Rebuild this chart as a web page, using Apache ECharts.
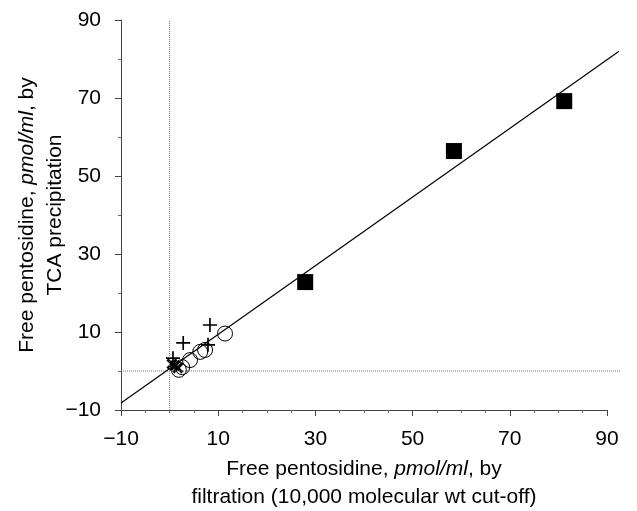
<!DOCTYPE html>
<html>
<head>
<meta charset="utf-8">
<script src="https://cdn.jsdelivr.net/npm/echarts@6/dist/echarts.min.js"></script>
<style>
  html, body { margin: 0; padding: 0; background: #fff; }
  #chart { width: 637px; height: 511px; }
</style>
</head>
<body>
<div id="chart"></div>
<script>
// values
const squarePoints = [[27.9, 22.8], [58.5, 56.4], [81.2, 69.2]]
const circlePoints = [[11.4, 9.6], [7.3, 5.4], [6.3, 4.9], [4.2, 2.8], [2.6, 1.0], [1.9, 0.3]]
const plusPoints = [[8.3, 11.8], [2.8, 7.2], [7.9, 6.7], [0.7, 3.3]]
const crossPoints = [[1.1, 1.3], [1.7, 0.8], [0.5, 1.8]]
const fitLine = [[-10, -8.2], [92.5, 82]]
const zeroLineH = [[-10, 0], [92.7, 0]]
const zeroLineV = [[0, -10], [0, 90]]

const FONT = '"Liberation Sans", Arial, Helvetica, sans-serif'
const plusPath = 'path://M4.4,0H5.6V4.4H10V5.6H5.6V10H4.4V5.6H0V4.4H4.4Z'
const crossPath = 'path://M3.9,0H6.1V3.9H10V6.1H6.1V10H3.9V6.1H0V3.9H3.9Z'

const nameStyle = {
  fontFamily: FONT,
  fontSize: 21,
  color: '#000',
  lineHeight: 28,
  rich: {
    n: { fontFamily: FONT, fontSize: 21, color: '#000', lineHeight: 28 },
    i: { fontFamily: FONT, fontSize: 21, color: '#000', lineHeight: 28, fontStyle: 'italic' },
  },
}

const minus = v => (v < 0 ? '\u2212' + Math.abs(v) : String(v))

function axis(extra) {
  return Object.assign({
    type: 'value',
    min: -10,
    max: 90,
    interval: 20,
    nameLocation: 'middle',
    nameMoveOverlap: false,
    nameTextStyle: nameStyle,
    axisLine: { show: true, onZero: false, lineStyle: { color: '#444', width: 1 } },
    axisTick: { show: true, length: 6, lineStyle: { color: '#444' } },
    splitLine: { show: false },
  }, extra)
}

// hidden axes for the lines that run a little past x = 90
const hiddenAxis = {
  type: 'value',
  show: false,
  splitLine: { show: false },
}

const chart = echarts.init(document.getElementById('chart'))
chart.setOption({
  animation: false,
  backgroundColor: '#fff',
  grid: [
    { left: 121, right: 30, top: 20, bottom: 101, containLabel: false, outerBoundsMode: 'none' },
    { left: 121, right: 17, top: 20, bottom: 101, containLabel: false, outerBoundsMode: 'none' },
  ],
  xAxis: [
    axis({
      name: '{n|Free pentosidine, }{i|pmol/ml}{n|, by}\n{n|filtration (10,000 molecular wt cut-off)}',
      nameGap: 45,
      minorTick: { show: true, splitNumber: 4, length: 3, lineStyle: { color: '#666' } },
      axisLabel: { color: '#000', fontFamily: FONT, fontSize: 21, margin: 19, formatter: minus },
    }),
    Object.assign({ gridIndex: 1, min: -10, max: 92.7 }, hiddenAxis),
  ],
  yAxis: [
    axis({
      name: '{n|Free pentosidine, }{i|pmol/ml}{n|, by}\n{n|TCA precipitation}',
      nameGap: 52,
      minorTick: { show: true, splitNumber: 2, length: 3, lineStyle: { color: '#666' } },
      axisLabel: { color: '#000', fontFamily: FONT, fontSize: 21, margin: 20, formatter: minus },
    }),
    Object.assign({ gridIndex: 1, min: -10, max: 90 }, hiddenAxis),
  ],
  series: [
    {
      type: 'line', xAxisIndex: 1, yAxisIndex: 1, data: zeroLineH, clip: false, symbol: 'none', silent: true,
      lineStyle: { color: '#777', width: 1, type: 'dotted' },
    },
    {
      type: 'line', xAxisIndex: 1, yAxisIndex: 1, data: zeroLineV, clip: false, symbol: 'none', silent: true,
      lineStyle: { color: '#777', width: 1, type: 'dotted' },
    },
    {
      type: 'line', xAxisIndex: 1, yAxisIndex: 1, data: fitLine, clip: false, symbol: 'none', silent: true,
      lineStyle: { color: '#000', width: 1.2 },
    },
    {
      type: 'scatter', data: squarePoints, symbol: 'rect', symbolSize: 16,
      itemStyle: { color: '#000', opacity: 1 },
    },
    {
      type: 'scatter', data: circlePoints, symbol: 'circle', symbolSize: 15,
      itemStyle: { color: 'rgba(0,0,0,0)', borderColor: '#000', borderWidth: 1, opacity: 1 },
    },
    {
      type: 'scatter', data: plusPoints, symbol: plusPath, symbolSize: 14,
      itemStyle: { color: '#000', opacity: 1 },
    },
    {
      type: 'scatter', data: crossPoints, symbol: crossPath, symbolSize: 13, symbolRotate: 45,
      itemStyle: { color: '#000', opacity: 1 },
    },
  ],
})
</script>
</body>
</html>
